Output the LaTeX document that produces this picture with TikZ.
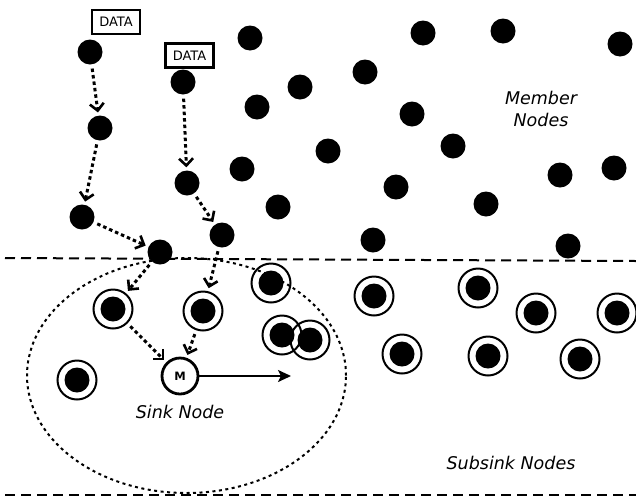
\documentclass[tikz,border=0pt]{standalone}
\usepackage{fontspec}
\setmainfont{DejaVu Sans}
\usetikzlibrary{arrows.meta}
\tikzset{
  member/.style={circle, fill=black, minimum size=25pt, inner sep=0pt},
  subsink/.style={circle, draw, line width=2pt, minimum size=39pt, inner sep=0pt,
    path picture={\fill (path picture bounding box.center) circle (12.5pt);}},
  sinknode/.style={circle, draw, fill=white, line width=2.8pt, minimum size=36pt, inner sep=0pt, font=\fontsize{11.5}{11.5}\selectfont\bfseries},
  databox/.style={draw, line width=2.8pt, minimum width=48pt, minimum height=24pt, inner sep=0pt, font=\fontsize{13}{13}\selectfont},
  flow/.style={line width=3pt, dash pattern=on 3.5pt off 3pt, -{Straight Barb[length=7pt,width=14pt,line width=2.6pt]}, shorten <=4pt, shorten >=3pt},
  divider/.style={line width=2pt, dash pattern=on 10pt off 6pt},
  lbl/.style={font=\fontsize{17.5}{22}\selectfont\itshape, align=center}
}
\begin{document}
\begin{tikzpicture}[x=1pt,y=-1pt]
\useasboundingbox (0,0) rectangle (636,501);
% dividers
\coordinate (d1a) at (5,258); \coordinate (d1b) at (636,261);
\coordinate (d2a) at (5,495); \coordinate (d2b) at (636,495);
\draw[divider] (d1a) -- (d1b);
\draw[divider] (d2a) -- (d2b);
% sink ellipse
\draw[line width=2pt, dash pattern=on 3pt off 3.5pt] (186.5,375.5) ellipse [x radius=159.5pt, y radius=117.5pt];
% data boxes
\node[databox] (data1) at (116,22) {DATA};
\node[databox] (data2) at (189.5,55.5) {DATA};
% member nodes
\node[member] (m1) at (90,52) {};
\node[member] (m2) at (183,82) {};
\node[member] (m3) at (250,38) {};
\node[member] (m4) at (423,33) {};
\node[member] (m5) at (503,31) {};
\node[member] (m6) at (620,44) {};
\node[member] (m7) at (365,72) {};
\node[member] (m8) at (300,87) {};
\node[member] (m9) at (257,107) {};
\node[member] (m10) at (412,114) {};
\node[member] (m11) at (100,128) {};
\node[member] (m12) at (453,146) {};
\node[member] (m13) at (328,151) {};
\node[member] (m14) at (242,169) {};
\node[member] (m15) at (614,168) {};
\node[member] (m16) at (560,175) {};
\node[member] (m17) at (187,183) {};
\node[member] (m18) at (396,187) {};
\node[member] (m19) at (486,204) {};
\node[member] (m20) at (278,207) {};
\node[member] (m21) at (82,217) {};
\node[member] (m22) at (222,235) {};
\node[member] (m23) at (373,240) {};
\node[member] (m24) at (568,246) {};
\node[member] (m25) at (160,252) {};
% subsink nodes
\node[subsink] (s1) at (113,309) {};
\node[subsink] (s2) at (203,311) {};
\node[subsink] (s3) at (77,380) {};
\node[subsink] (s4) at (271,283) {};
\node[subsink] (s5) at (282,335) {};
\node[subsink] (s6) at (310,340) {};
\node[subsink] (s7) at (374,296) {};
\node[subsink] (s8) at (478,288) {};
\node[subsink] (s9) at (536,313) {};
\node[subsink] (s10) at (617,313) {};
\node[subsink] (s11) at (402,354) {};
\node[subsink] (s12) at (488,356) {};
\node[subsink] (s13) at (580,359) {};
% sink
\node[sinknode] (M) at (180,376) {M};
\coordinate (mout) at (291,376);
\draw[line width=2pt, -{Stealth[length=13pt,width=12pt,inset=3pt]}] (M) -- (mout);
% flows
\draw[flow] (m1) -- (m11);
\draw[flow] (m11) -- (m21);
\draw[flow] (m21) -- (m25);
\draw[flow] (m2) -- (m17);
\draw[flow] (m17) -- (m22);
\draw[flow] (m25) -- (s1);
\draw[flow] (m22) -- (s2);
\draw[flow] (s1) -- (M);
\draw[flow] (s2) -- (M);
% labels
\node[lbl] (memberlbl) at (541,109) {Member\\Nodes};
\node[lbl] (sinklbl) at (180,412) {Sink Node};
\node[lbl] (subsinklbl) at (511,463) {Subsink Nodes};
\end{tikzpicture}
\end{document}
